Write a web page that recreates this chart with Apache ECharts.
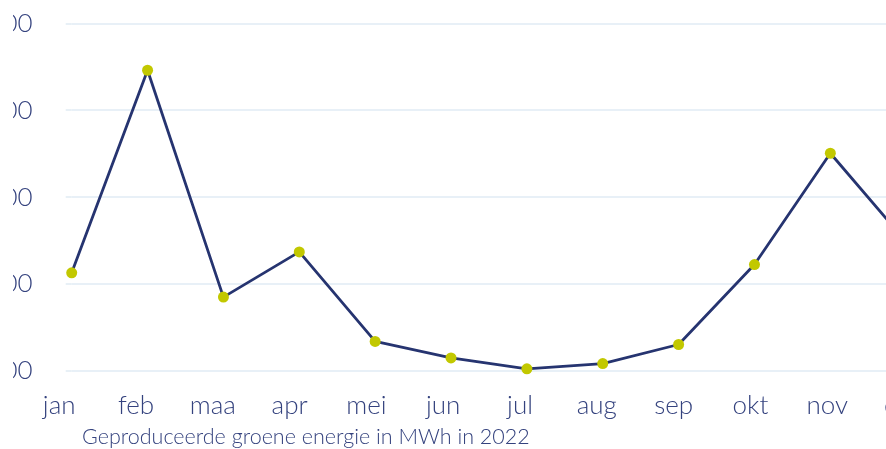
<!DOCTYPE html>
<html>
<head>
<meta charset="utf-8">
<script src="https://cdn.jsdelivr.net/npm/echarts@6/dist/echarts.min.js"></script>
<style>
html,body{margin:0;padding:0;background:#fff;overflow:hidden;width:886px;height:449px;}
#clip{position:absolute;left:13px;top:0;width:873px;height:449px;overflow:hidden;}
#chart{position:absolute;left:-13px;top:0;width:1000px;height:449px;}
</style>
</head>
<body>
<div id="clip"><div id="chart"></div></div>
<script>
const categories = ['jan','feb','maa','apr','mei','jun','jul','aug','sep','okt','nov','dec'];
const production = [426, 892, 370, 474, 268, 230, 205, 217, 261, 445, 701, 497];
const yMin = 200, yMax = 1000, yStep = 200;
const caption = 'Geproduceerde groene energie in MWh in 2022';

const textColor = '#34427e';
const fontFam = 'Lato, "Open Sans", "Noto Sans", sans-serif';
const gridColor = '#e1ebf4';

const chart = echarts.init(document.getElementById('chart'), null, {renderer:'canvas'});
chart.setOption({
  animation:false,
  backgroundColor:'#ffffff',
  title:{
    text:caption,
    left:82, top:426, padding:0,
    textStyle:{color:textColor, fontSize:21.5, fontWeight:300, fontFamily:fontFam}
  },
  grid:[
    {left:71.7, top:23.3, width:834.5, height:347.7, containLabel:false, outerBoundsMode:'none'},
    {left:59.2, top:23.3, width:844.8, height:347.7, containLabel:false, outerBoundsMode:'none'}
  ],
  xAxis:[{
    type:'category', data:categories, boundaryGap:false, gridIndex:0,
    axisLine:{show:false}, axisTick:{show:false}, axisLabel:{show:false},
    splitLine:{show:false}
  },{
    type:'category', data:categories, boundaryGap:false, gridIndex:1,
    axisLine:{show:false}, axisTick:{show:false},
    axisLabel:{color:textColor, fontSize:26, fontWeight:300, fontFamily:fontFam, margin:22},
    splitLine:{show:false}
  }],
  yAxis:[{
    type:'value', min:yMin, max:yMax, interval:yStep, gridIndex:0,
    axisLine:{show:false},
    axisTick:{show:true, length:6, lineStyle:{color:gridColor, width:1.5}},
    axisLabel:{color:textColor, fontSize:26, fontWeight:300, fontFamily:fontFam, margin:39,
      formatter:function(v){return String(v);}},
    splitLine:{show:true, lineStyle:{color:gridColor, width:1.5}}
  },{
    type:'value', min:yMin, max:yMax, interval:yStep, gridIndex:1, show:false
  }],
  series:[{
    type:'line', data:production, xAxisIndex:0, yAxisIndex:0,
    symbol:'circle', symbolSize:11, showSymbol:true,
    lineStyle:{color:'#263470', width:2.8},
    itemStyle:{color:'#c2c800'},
    z:3
  }]
});
</script>
</body>
</html>
